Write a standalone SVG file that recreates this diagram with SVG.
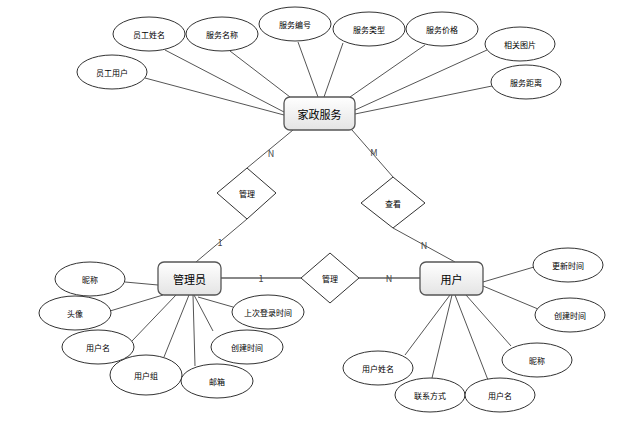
<svg xmlns="http://www.w3.org/2000/svg" width="624" height="427" viewBox="0 0 624 427">
<style>
.e{fill:#fff;stroke:#333;stroke-width:1}
.d{fill:#fff;stroke:#333;stroke-width:1}
.b{fill:url(#g);stroke:#555;stroke-width:1.3}
.l{stroke:#555;stroke-width:1;fill:none}
.l2{stroke:#888;stroke-width:2;fill:none}
text{font-family:"Noto Sans CJK SC","Liberation Sans",sans-serif;font-size:8px;text-anchor:middle;dominant-baseline:central;fill:#000}
.bt{font-size:11px}
.c{font-size:9px;fill:#444}
</style>
<defs><linearGradient id="g" x1="0" y1="0" x2="0" y2="1"><stop offset="0" stop-color="#fff"/><stop offset="1" stop-color="#e4e4e4"/></linearGradient></defs>
<g id="connectors">
<line class="l" x1="145" y1="78" x2="284" y2="115"/>
<line class="l" x1="165" y1="50" x2="284" y2="112"/>
<line class="l" x1="230" y1="51" x2="290" y2="97"/>
<line class="l" x1="298" y1="42" x2="318" y2="97"/>
<line class="l" x1="343" y1="43" x2="324" y2="97"/>
<line class="l" x1="425" y1="45" x2="350" y2="97"/>
<line class="l" x1="487" y1="50" x2="355" y2="110"/>
<line class="l" x1="492" y1="86" x2="355" y2="114"/>
<line class="l" x1="293" y1="130" x2="247" y2="168"/>
<line class="l" x1="247" y1="219" x2="196" y2="262"/>
<line class="l" x1="352" y1="130" x2="393" y2="177"/>
<line class="l" x1="393" y1="228" x2="455" y2="262"/>
<line class="l2" x1="221" y1="278" x2="301" y2="278"/>
<line class="l2" x1="359" y1="278" x2="420" y2="278"/>
<line class="l" x1="125" y1="282" x2="158" y2="285"/>
<line class="l" x1="110" y1="311" x2="163" y2="295"/>
<line class="l" x1="132" y1="341" x2="176" y2="295"/>
<line class="l" x1="164" y1="357" x2="189" y2="295"/>
<line class="l" x1="195" y1="366" x2="193" y2="295"/>
<line class="l" x1="213" y1="331" x2="194" y2="295"/>
<line class="l" x1="233" y1="307" x2="198" y2="297"/>
<line class="l" x1="534" y1="267" x2="483" y2="282"/>
<line class="l" x1="538" y1="309" x2="483" y2="286"/>
<line class="l" x1="511" y1="346" x2="466" y2="295"/>
<line class="l" x1="405" y1="355" x2="450" y2="295"/>
<line class="l" x1="432" y1="378" x2="452" y2="295"/>
<line class="l" x1="488" y1="380" x2="455" y2="295"/>
<text class="c" x="271" y="153">N</text>
<text class="c" x="374" y="152">M</text>
<text class="c" x="220" y="242">1</text>
<text class="c" x="424" y="245">N</text>
<text class="c" x="261" y="278" fill="#666">1</text>
<text class="c" x="389" y="278">N</text>
</g>
<g id="jiazheng"><rect class="b" x="284" y="97" width="71" height="33" rx="6"/><text class="bt" x="319.5" y="113.5">家政服务</text></g>
<g id="guanliyuan"><rect class="b" x="158" y="262" width="63" height="33" rx="6"/><text class="bt" x="189.5" y="278.5">管理员</text></g>
<g id="yonghu"><rect class="b" x="420" y="262" width="63" height="33" rx="6"/><text class="bt" x="451.5" y="278.5">用户</text></g>
<g id="r1"><polygon class="d" points="247,168 276,193 247,219 217,193"/><text x="247" y="193">管理</text></g>
<g id="r2"><polygon class="d" points="393,177 425,203 393,228 361,203"/><text x="393" y="203">查看</text></g>
<g id="r3"><polygon class="d" points="330,253 359,278 330,303 301,278"/><text x="330" y="278">管理</text></g>
<g id="a1"><ellipse class="e" cx="112" cy="72" rx="35" ry="17"/><text x="112" y="72">员工用户</text></g>
<g id="a2"><ellipse class="e" cx="149" cy="34" rx="36" ry="17"/><text x="149" y="34">员工姓名</text></g>
<g id="a3"><ellipse class="e" cx="222" cy="34" rx="36" ry="17"/><text x="222" y="34">服务名称</text></g>
<g id="a4"><ellipse class="e" cx="295" cy="24" rx="36" ry="17"/><text x="295" y="24">服务编号</text></g>
<g id="a5"><ellipse class="e" cx="369" cy="29" rx="36" ry="17"/><text x="369" y="29">服务类型</text></g>
<g id="a6"><ellipse class="e" cx="442" cy="29" rx="36" ry="17"/><text x="442" y="29">服务价格</text></g>
<g id="a7"><ellipse class="e" cx="520" cy="44" rx="35" ry="17"/><text x="520" y="44">相关图片</text></g>
<g id="a8"><ellipse class="e" cx="526" cy="82" rx="35" ry="17"/><text x="526" y="82">服务距离</text></g>
<g id="b1"><ellipse class="e" cx="90" cy="279" rx="35" ry="17"/><text x="90" y="279">昵称</text></g>
<g id="b2"><ellipse class="e" cx="75" cy="313" rx="36" ry="17"/><text x="75" y="313">头像</text></g>
<g id="b3"><ellipse class="e" cx="98" cy="347" rx="36" ry="17"/><text x="98" y="347">用户名</text></g>
<g id="b4"><ellipse class="e" cx="146" cy="375" rx="36" ry="20"/><text x="146" y="375">用户组</text></g>
<g id="b5"><ellipse class="e" cx="217" cy="381" rx="36" ry="17"/><text x="217" y="381">邮箱</text></g>
<g id="b6"><ellipse class="e" cx="247" cy="347" rx="36" ry="17"/><text x="247" y="347">创建时间</text></g>
<g id="b7"><ellipse class="e" cx="268" cy="312" rx="36" ry="17"/><text x="268" y="312">上次登录时间</text></g>
<g id="c1"><ellipse class="e" cx="568" cy="265" rx="35" ry="17"/><text x="568" y="265">更新时间</text></g>
<g id="c2"><ellipse class="e" cx="570" cy="315" rx="35" ry="17"/><text x="570" y="315">创建时间</text></g>
<g id="c3"><ellipse class="e" cx="537" cy="360" rx="35" ry="17"/><text x="537" y="360">昵称</text></g>
<g id="c4"><ellipse class="e" cx="378" cy="368" rx="35" ry="17"/><text x="378" y="368">用户姓名</text></g>
<g id="c5"><ellipse class="e" cx="430" cy="395" rx="35" ry="17"/><text x="430" y="395">联系方式</text></g>
<g id="c6"><ellipse class="e" cx="500" cy="395" rx="35" ry="17"/><text x="500" y="395">用户名</text></g>
</svg>
